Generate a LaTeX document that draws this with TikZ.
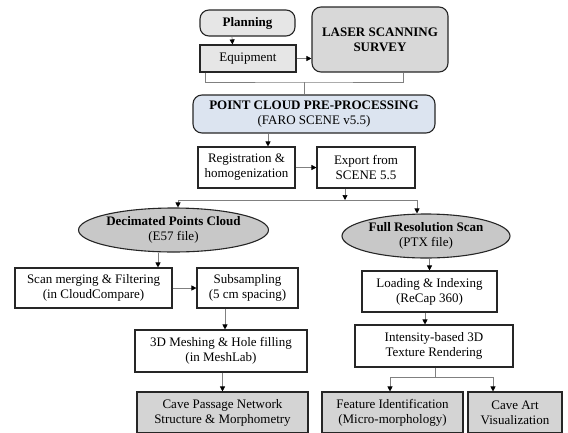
\documentclass[tikz,border=0pt]{standalone}
\usepackage{fontspec}
\setmainfont{Liberation Serif}
\usetikzlibrary{shapes.geometric}
\usetikzlibrary{arrows.meta}

\definecolor{boxgray}{RGB}{230,230,230}
\definecolor{surveygray}{RGB}{216,216,216}
\definecolor{preblue}{RGB}{220,228,240}
\definecolor{cloudgray}{RGB}{200,200,200}
\definecolor{resultgray}{RGB}{212,212,212}

\begin{document}
\begin{tikzpicture}[x=1pt,y=-1pt,
	every node/.style={font=\fontsize{13}{15}\selectfont},
	box/.style={draw=black!85,line width=1.1pt,rectangle,align=center,inner sep=0pt},
	rbox/.style={box,rounded corners=9pt},
	cloud/.style={box,ellipse,fill=cloudgray},
	link/.style={draw=black!50,line width=0.7pt},
	flow/.style={link,-{Triangle[length=5pt,width=5pt,fill=black,color=black]}}]
\useasboundingbox (0,0) rectangle (568,432);
% survey block
\node[rbox,fill=boxgray,minimum width=95pt,minimum height=26pt] (plan) at (247.5,23) {\textbf{Planning}};
\node[box,fill=boxgray,minimum width=96pt,minimum height=27pt] (equip) at (248,58.5) {Equipment};
\node[rbox,fill=surveygray,minimum width=136pt,minimum height=65pt] (laser) at (380,39.5) {\textbf{LASER SCANNING}\\\textbf{SURVEY}};
\node[rbox,fill=preblue,minimum width=242pt,minimum height=38pt] (pcp) at (314,114) {\textbf{POINT CLOUD PRE-PROCESSING}\\(FARO SCENE v5.5)};
\node[box,fill=white,minimum width=97pt,minimum height=41pt] (reg) at (246.5,167.5) {Registration \&\\homogenization};
\node[box,fill=white,minimum width=98pt,minimum height=41pt] (export) at (366,167.5) {Export from\\SCENE 5.5};
% the two branches
\node[cloud,minimum width=157pt,minimum height=44pt] (dec) at (173.5,230) {\textbf{Decimated Points Cloud}\\(E57 file)};
\node[cloud,minimum width=168pt,minimum height=44pt] (full) at (426,236) {\textbf{Full Resolution Scan}\\(PTX file)};
\node[box,fill=white,minimum width=157pt,minimum height=40pt] (merge) at (93.5,288) {Scan merging \& Filtering\\(in CloudCompare)};
\node[box,fill=white,minimum width=101pt,minimum height=40pt] (subs) at (247.5,288) {Subsampling\\(5 cm spacing)};
\node[box,fill=white,minimum width=172pt,minimum height=42pt] (mesh) at (221,351) {3D Meshing \& Hole filling\\(in MeshLab)};
\node[box,fill=resultgray,minimum width=171pt,minimum height=41pt] (cave) at (222.5,412.5) {Cave Passage Network\\Structure \& Morphometry};
\node[box,fill=white,minimum width=135pt,minimum height=41pt] (load) at (429.5,291.5) {Loading \& Indexing\\(ReCap 360)};
\node[box,fill=white,minimum width=158pt,minimum height=42pt] (tex) at (434,346) {Intensity-based 3D\\Texture Rendering};
\node[box,fill=resultgray,minimum width=141pt,minimum height=41pt] (feat) at (392.5,412.5) {Feature Identification\\(Micro-morphology)};
\node[box,fill=resultgray,minimum width=94pt,minimum height=41pt] (art) at (515,412.5) {Cave Art\\Visualization};
\coordinate (brk) at (304,82);
\coordinate (split) at (345,200);
\coordinate (fork) at (435,377);
% connectors
\draw[flow] ([xshift=-15.5pt]plan.south) -- ([xshift=-15.5pt]equip.north);
\draw[flow] (equip) -- (equip -| laser.west);
\draw[link] ([xshift=-43pt]equip.south) |- (brk) -| ([xshift=23pt]laser.south);
\draw[link] (brk) -- (brk |- pcp.north);
\draw[flow] ([xshift=21.5pt]reg.north |- pcp.south) -- ([xshift=21.5pt]reg.north);
\draw[flow] (reg) -- (export);
\draw[flow] (split |- export.south) -- (split);
\draw[flow] (split) -| ([xshift=4.5pt]dec.north);
\draw[flow] (split) -| ([xshift=-9pt]full.north);
\draw[flow] ([xshift=-15.5pt]dec.south) -- ([xshift=-15.5pt]dec.south |- merge.north);
\draw[flow] (merge) -- (subs);
\draw[flow] ([xshift=4pt]mesh.north |- subs.south) -- ([xshift=4pt]mesh.north);
\draw[flow] (cave.north |- mesh.south) -- (cave.north);
\draw[flow] (load.north |- full.south) -- (load.north);
\draw[flow] ([xshift=-4.5pt]load.south) -- ([xshift=-4.5pt]load.south |- tex.north);
\draw[link] (fork |- tex.south) -- (fork);
\draw[flow] (fork) -| ([xshift=-2.5pt]feat.north);
\draw[flow] (fork) -| ([xshift=-22pt]art.north);
\end{tikzpicture}
\end{document}
